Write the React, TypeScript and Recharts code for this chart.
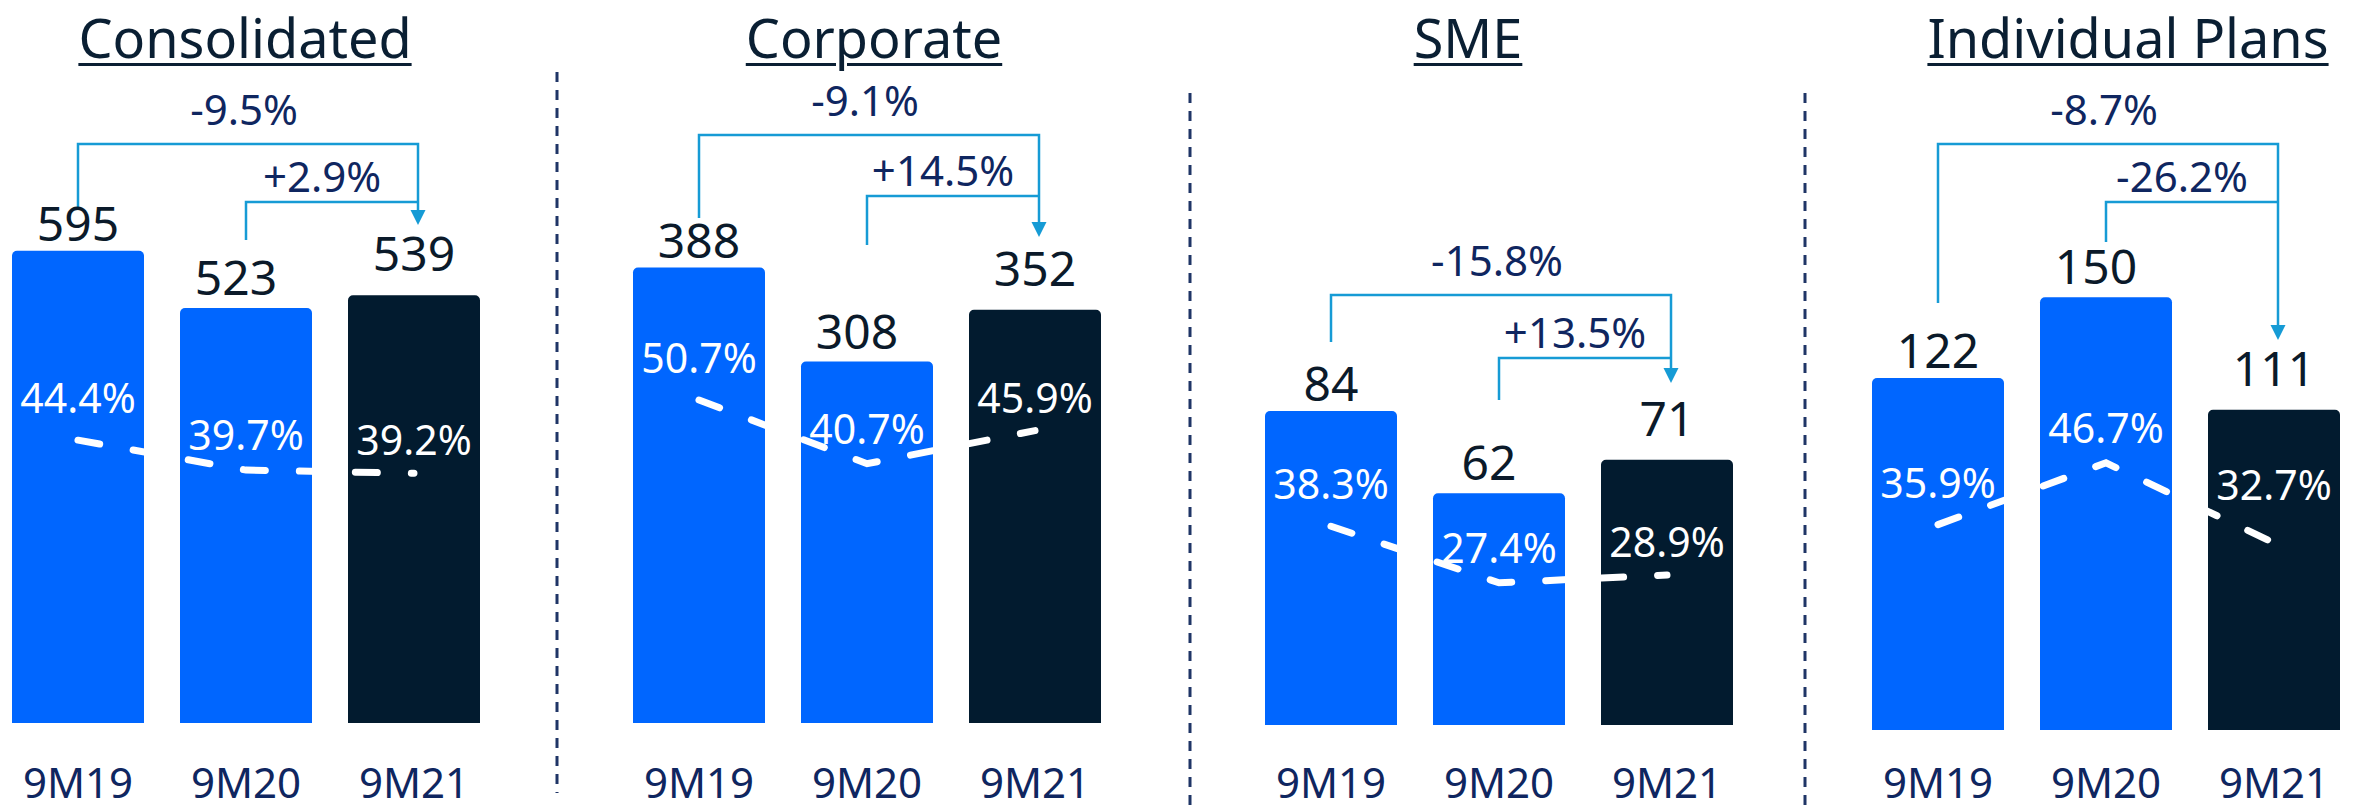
import React from "react"
import { Bar, Cell, ComposedChart, LabelList, Line, ReferenceLine, XAxis, YAxis } from "recharts"

const periods = ["9M19", "9M20", "9M21"]

const titles = ["Consolidated", "Corporate", "SME", "Individual Plans"]

const consolidatedRevenue = [595, 523, 539]
const corporateRevenue = [388, 308, 352]
const smeRevenue = [84, 62, 71]
const individualRevenue = [122, 150, 111]

const consolidatedMargin = [44.4, 39.7, 39.2]
const corporateMargin = [50.7, 40.7, 45.9]
const smeMargin = [38.3, 27.4, 28.9]
const individualMargin = [35.9, 46.7, 32.7]

// [9M21 vs 9M19, 9M21 vs 9M20]
const consolidatedChange = ["-9.5%", "+2.9%"]
const corporateChange = ["-9.1%", "+14.5%"]
const smeChange = ["-15.8%", "+13.5%"]
const individualChange = ["-8.7%", "-26.2%"]

const FONT = "'Noto Sans', sans-serif"
const BLUE = "#0066ff"
const DARK = "#021b2f"
const INK = "#0b1a2a"
const NAVY = "#0f2660"
const ARROW = "#169bd5"

const panels = [
    {
        title: titles[0], revenue: consolidatedRevenue, margin: consolidatedMargin, change: consolidatedChange,
        left: -6, titleX: 245, base: 723, barMax: 911, pctMax: 113.5,
        bracket: { outerY: 144, outerFoot: 208, innerY: 202, innerFoot: 240, tip: 225 },
    },
    {
        title: titles[1], revenue: corporateRevenue, margin: corporateMargin, change: corporateChange,
        left: 615, titleX: 874, base: 723, barMax: 616, pctMax: 113.5,
        bracket: { outerY: 135, outerFoot: 218, innerY: 196, innerFoot: 245, tip: 237 },
    },
    {
        title: titles[2], revenue: smeRevenue, margin: smeMargin, change: smeChange,
        left: 1247, titleX: 1468, base: 725, barMax: 194, pctMax: 139.7,
        bracket: { outerY: 295, outerFoot: 342, innerY: 358, innerFoot: 400, tip: 383 },
    },
    {
        title: titles[3], revenue: individualRevenue, margin: individualMargin, change: individualChange,
        left: 1854, titleX: 2128, base: 730, barMax: 253, pctMax: 127.6,
        bracket: { outerY: 144, outerFoot: 303, innerY: 202, innerFoot: 242, tip: 340 },
    },
]

const valueGap = [10, 13, 24]
const valueShift = [0, -10, 0]
const pctGap = [27, 20, 18]

function ValueLabel(props: any) {
    const { x, y, width, value, index } = props
    return (
        <text x={x + width / 2 + valueShift[index]} y={y - valueGap[index]} textAnchor="middle" fill={INK} fontSize={48} fontFamily={FONT}>
            {value}
        </text>
    )
}

// last label sits higher when the line drops steeply into it
function pctLabel(series: number[]) {
    return (props: any) => {
        const { x, y, value, index } = props
        const steepDrop = index === 2 && series[1] - series[2] > 5
        return (
            <text x={x} y={y - (steepDrop ? 43 : pctGap[index])} textAnchor="middle" fill="#ffffff" fontSize={41} fontFamily={FONT}>
                {value.toFixed(1)}%
            </text>
        )
    }
}

function outerBracket(b: any, label: string) {
    return (props: any) => {
        const { x1, x2 } = props
        const xr = x2 + 4
        const head = b.tip - 15
        return (
            <g>
                <path d={`M${x1},${b.outerFoot} L${x1},${b.outerY} L${xr},${b.outerY} L${xr},${head}`} fill="none" stroke={ARROW} strokeWidth={2.5} />
                <polygon points={`${xr - 7.5},${head} ${xr + 7.5},${head} ${xr},${b.tip}`} fill={ARROW} />
                <text x={(x1 + xr) / 2 - 4} y={b.outerY - 19} textAnchor="middle" fill={NAVY} fontSize={42} fontFamily={FONT}>
                    {label}
                </text>
            </g>
        )
    }
}

function innerBracket(b: any, label: string) {
    return (props: any) => {
        const { x1, x2 } = props
        const xr = x2 + 4
        return (
            <g>
                <path d={`M${x1},${b.innerFoot} L${x1},${b.innerY} L${xr},${b.innerY}`} fill="none" stroke={ARROW} strokeWidth={2.5} />
                <text x={(x1 + xr) / 2 - 10} y={b.innerY - 10} textAnchor="middle" fill={NAVY} fontSize={42} fontFamily={FONT}>
                    {label}
                </text>
            </g>
        )
    }
}

function Panel({ p }: { p: (typeof panels)[number] }) {
    const data = periods.map((period, i) => ({ period, revenue: p.revenue[i], margin: p.margin[i] }))
    return (
        <div style={{ position: "absolute", left: p.left, top: 0 }}>
            <ComposedChart width={504} height={811} data={data} margin={{ top: 0, right: 0, bottom: 0, left: 0 }}>
                <XAxis
                    dataKey="period"
                    height={811 - p.base}
                    axisLine={false}
                    tickLine={false}
                    tickSize={0}
                    tickMargin={768 - p.base}
                    tick={{ fill: NAVY, fontSize: 42, fontFamily: FONT }}
                    interval={0}
                />
                <YAxis yAxisId="bar" hide domain={[0, p.barMax]} />
                <YAxis yAxisId="pct" hide domain={[0, p.pctMax]} />
                <Bar yAxisId="bar" dataKey="revenue" barSize={132} radius={[5, 5, 0, 0]} isAnimationActive={false}>
                    {data.map((d, i) => (
                        <Cell key={d.period} fill={i === 2 ? DARK : BLUE} />
                    ))}
                    <LabelList dataKey="revenue" content={ValueLabel} />
                </Bar>
                <Line
                    yAxisId="pct"
                    type="linear"
                    dataKey="margin"
                    stroke="#ffffff"
                    strokeWidth={7}
                    strokeDasharray="22 34"
                    strokeLinecap="round"
                    dot={false}
                    activeDot={false}
                    isAnimationActive={false}
                >
                    <LabelList dataKey="margin" content={pctLabel(p.margin)} />
                </Line>
                <ReferenceLine
                    yAxisId="bar"
                    ifOverflow="visible"
                    segment={[{ x: periods[0], y: 0 }, { x: periods[2], y: 0 }]}
                    shape={outerBracket(p.bracket, p.change[0])}
                />
                <ReferenceLine
                    yAxisId="bar"
                    ifOverflow="visible"
                    segment={[{ x: periods[1], y: 0 }, { x: periods[2], y: 0 }]}
                    shape={innerBracket(p.bracket, p.change[1])}
                />
            </ComposedChart>
        </div>
    )
}

export default function App() {
    return (
        <div style={{ position: "absolute", left: 0, top: 0, width: 2364, height: 811, background: "#ffffff", overflow: "hidden" }}>
            {panels.map((p) => (
                <div
                    key={p.title}
                    style={{
                        position: "absolute",
                        left: p.titleX - 300,
                        top: 8,
                        width: 600,
                        textAlign: "center",
                        fontFamily: FONT,
                        fontSize: 54,
                        lineHeight: "58px",
                        color: "#0a1f33",
                        textDecoration: "underline",
                        textDecorationThickness: 3,
                        textUnderlineOffset: 5,
                    }}
                >
                    {p.title}
                </div>
            ))}
            {panels.map((p) => (
                <Panel key={p.title} p={p} />
            ))}
            <svg width={2364} height={811} style={{ position: "absolute", left: 0, top: 0, pointerEvents: "none" }}>
                <line x1={557} y1={72} x2={557} y2={793} stroke="#1f3566" strokeWidth={3} strokeDasharray="10 8" />
                <line x1={1190} y1={93} x2={1190} y2={811} stroke="#1f3566" strokeWidth={3} strokeDasharray="10 8" />
                <line x1={1805} y1={93} x2={1805} y2={811} stroke="#1f3566" strokeWidth={3} strokeDasharray="10 8" />
            </svg>
        </div>
    )
}
